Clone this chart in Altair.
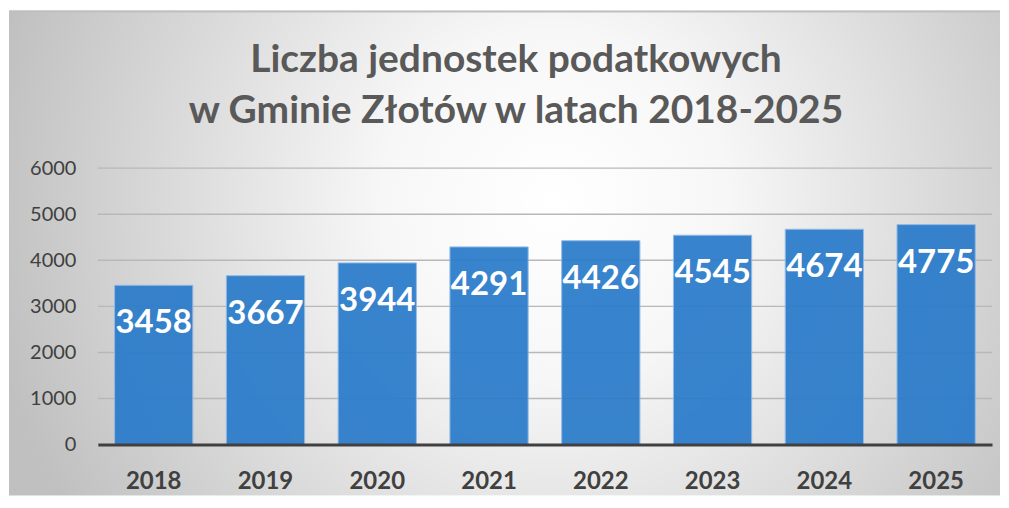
import altair as alt
import pandas as pd

years = ["2018", "2019", "2020", "2021", "2022", "2023", "2024", "2025"]
counts = [3458, 3667, 3944, 4291, 4426, 4545, 4674, 4775]
y_ticks = [0, 1000, 2000, 3000, 4000, 5000, 6000]
grid_values = [1000, 2000, 3000, 4000, 5000, 6000]
title_lines = ["Liczba jednostek podatkowych", "w Gminie Złotów w latach 2018-2025"]

W, H = 896, 277

df = pd.DataFrame({"year": years, "count": counts})
grid_df = pd.DataFrame({"v": grid_values})
one = alt.Data(values=[{"k": 1}])

y_scale = alt.Scale(domain=[0, 6000], nice=False)
x_scale = alt.Scale(paddingInner=0.3, paddingOuter=0.15)

bg = alt.Chart(one).mark_rect(
    fill={
        "gradient": "radial",
        "x1": 0.55, "y1": 0.45, "r1": 0.0,
        "x2": 0.55, "y2": 0.45, "r2": 0.58,
        "stops": [
            {"offset": 0.0, "color": "#ffffff"},
            {"offset": 0.3, "color": "#f7f7f7"},
            {"offset": 1.0, "color": "#c0c0c0"},
        ],
    }
).encode(
    x=alt.value(-89), x2=alt.value(W + 8),
    y=alt.value(-158), y2=alt.value(H + 51),
)

border = alt.Chart(one).mark_rule(color="#bfbfbf", strokeWidth=2).encode(
    x=alt.value(-89), x2=alt.value(W + 8), y=alt.value(-157)
)

title = alt.Chart(one).mark_text(
    font="Lato", fontWeight="bold", fontSize=39, color="#595959",
    align="center", baseline="alphabetic", lineHeight=51,
).encode(
    x=alt.value(419), y=alt.value(-96), text=alt.value(title_lines)
)

grid = alt.Chart(grid_df).mark_rule(color="#b8b8b8", strokeWidth=1.4).encode(
    y=alt.Y("v:Q", scale=y_scale)
)

bars = alt.Chart(df).mark_bar(
    fill="#2a7bca", opacity=0.93, stroke="#8fb8e6", strokeWidth=1
).encode(
    x=alt.X("year:O", scale=x_scale, sort=years,
            axis=alt.Axis(title=None, labelFont="Lato", labelFontWeight="bold",
                          labelFontSize=24, labelColor="#404040", ticks=False,
                          tickSize=0, labelPadding=25, domainColor="#404040",
                          domainWidth=3, labelAngle=0, zindex=1)),
    y=alt.Y("count:Q", scale=y_scale,
            axis=alt.Axis(title=None, values=y_ticks, format="d", grid=False,
                          domain=False, ticks=False, tickSize=0, labelPadding=22,
                          labelFont="Lato", labelFontSize=20,
                          labelColor="#404040", zindex=1)),
)

labels = alt.Chart(df).mark_text(
    font="Lato", fontWeight="bold", fontSize=33, color="white",
    baseline="middle", dy=38,
).encode(
    x=alt.X("year:O", scale=x_scale, sort=years),
    y=alt.Y("count:Q", scale=y_scale),
    text=alt.Text("count:Q", format="d"),
)

chart = alt.layer(bg, border, title, grid, bars, labels).properties(
    width=W, height=H,
    padding={"left": 0, "top": 2, "right": 0, "bottom": 0},
    background="white",
).configure_view(strokeWidth=0).configure(font="Lato")

chart.save("out.html", embed_options={"renderer": "svg", "actions": False})
